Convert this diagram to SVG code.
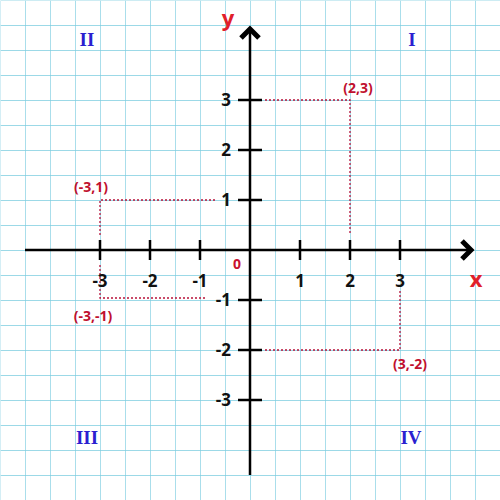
<svg xmlns="http://www.w3.org/2000/svg" width="500" height="500" viewBox="0 0 500 500">
<defs>
<pattern id="grid" width="25" height="25" patternUnits="userSpaceOnUse">
<path d="M0 0V25M0 0H25" fill="none" stroke="#7ccde0" stroke-width="1.3"/>
</pattern>
<style>
.ax{stroke:#000;stroke-width:2.5;fill:none}
.tk{stroke:#000;stroke-width:2.5}
.ah{fill:none;stroke:#000;stroke-width:5;stroke-linejoin:miter}
.dot{stroke:#b8123a;stroke-width:1.3;stroke-dasharray:2 2;fill:none}
.num{font-family:"Open Sans","Liberation Sans",sans-serif;font-weight:bold;font-size:17px;fill:#111}
.pt{font-family:"Open Sans","Liberation Sans",sans-serif;font-weight:bold;font-size:14px;fill:#c0102e}
.q{font-family:"Liberation Serif",serif;font-weight:bold;font-size:19px;fill:#2b1fd0}
.lab{font-family:"Open Sans","Liberation Sans",sans-serif;font-weight:bold;font-size:22px;fill:#e0202a}
</style>
</defs>
<rect width="500" height="500" fill="#fff"/>
<rect x="0.5" y="0.5" width="500" height="500" fill="url(#grid)"/>
<g id="guides">
<path class="dot" d="M265 100H350V235"/>
<path class="dot" d="M215 200H100V235"/>
<path class="dot" d="M100 265V298H205"/>
<path class="dot" d="M265 350H400V290"/>
</g>
<g id="connectors">
<path class="ax" d="M250 30V475"/>
<path class="ax" d="M25 250H470"/>
<path class="ah" d="M241 38L250 29L259 38"/>
<path class="ah" d="M462 241L471 250L462 259"/>
<path class="tk" d="M100 240V260M150 240V260M200 240V260M300 240V260M350 240V260M400 240V260"/>
<path class="tk" d="M238 100H262M238 150H262M238 200H262M238 300H262M238 350H262M238 400H262"/>
</g>
<g id="axis-labels">
<text class="lab" x="228" y="26" text-anchor="middle">y</text>
<text class="lab" x="476" y="287" text-anchor="middle">x</text>
<text x="237" y="269" text-anchor="middle" font-family="Open Sans, Liberation Sans, sans-serif" font-weight="bold" font-size="14" fill="#c8102e">0</text>
</g>
<g id="x-numbers">
<text class="num" x="100" y="287" text-anchor="middle">-3</text>
<text class="num" x="150" y="287" text-anchor="middle">-2</text>
<text class="num" x="200" y="287" text-anchor="middle">-1</text>
<text class="num" x="300" y="287" text-anchor="middle">1</text>
<text class="num" x="350" y="287" text-anchor="middle">2</text>
<text class="num" x="400" y="287" text-anchor="middle">3</text>
</g>
<g id="y-numbers">
<text class="num" x="231" y="106" text-anchor="end">3</text>
<text class="num" x="231" y="156" text-anchor="end">2</text>
<text class="num" x="231" y="206" text-anchor="end">1</text>
<text class="num" x="231" y="306" text-anchor="end">-1</text>
<text class="num" x="231" y="356" text-anchor="end">-2</text>
<text class="num" x="231" y="406" text-anchor="end">-3</text>
</g>
<g id="point-2-3"><text class="pt" x="358" y="93" text-anchor="middle">(2,3)</text></g>
<g id="point-m3-1"><text class="pt" x="91" y="192" text-anchor="middle">(-3,1)</text></g>
<g id="point-m3-m1"><text class="pt" x="93" y="321" text-anchor="middle">(-3,-1)</text></g>
<g id="point-3-m2"><text class="pt" x="410" y="369" text-anchor="middle">(3,-2)</text></g>
<g id="quadrants">
<text class="q" x="87" y="46" text-anchor="middle">II</text>
<text class="q" x="412" y="46" text-anchor="middle">I</text>
<text class="q" x="87" y="444" text-anchor="middle">III</text>
<text class="q" x="411" y="444" text-anchor="middle">IV</text>
</g>
</svg>
